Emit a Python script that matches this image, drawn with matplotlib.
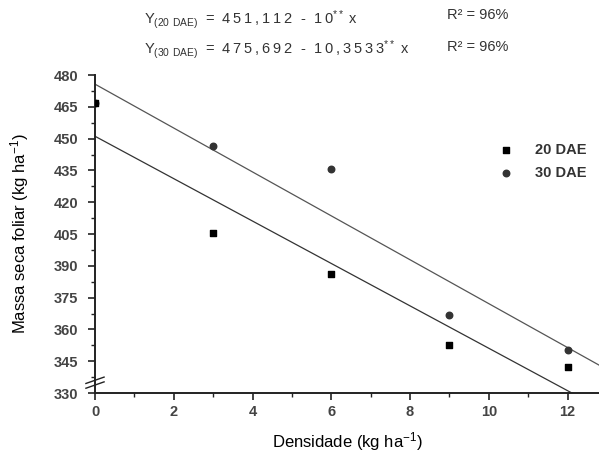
import matplotlib
matplotlib.use("Agg")
import matplotlib.pyplot as plt
import numpy as np

plt.rcParams['font.family'] = ['Liberation Sans', 'DejaVu Sans']
plt.rcParams['mathtext.default'] = 'regular'

# data
dens = [0, 3, 6, 9, 12]
dae20 = [467, 405.5, 386, 352.5, 342.5]
dae30 = [467, 446.5, 435.5, 367, 350.5]
# regression coefficients
fit20 = (451.112, -10.0)
fit30 = (475.692, -10.3533)


def sp(s):
    # wide letter spacing like the original print
    return '\u2009'.join(s)


fig = plt.figure(figsize=(5.99, 4.61), dpi=100)
ax = fig.add_axes([0.1586, 0.1475, 0.8414, 0.6898])

xx = np.array([0, 12.8])
ax.plot(xx, fit20[0] + fit20[1] * xx, color='#333333', lw=0.9)
ax.plot(xx, fit30[0] + fit30[1] * xx, color='#555555', lw=0.9)
ax.scatter(dens, dae30, marker='o', s=22, color='#333333', zorder=3, label='30 DAE')
ax.scatter(dens, dae20, marker='s', s=20, color='black', zorder=4, label='20 DAE')

ax.set_xlim(0, 12.8)
ax.set_ylim(330, 480)
ax.set_xticks(range(0, 13, 2))
ax.set_xticks(range(0, 13, 1), minor=True)
ax.set_yticks(range(330, 481, 15))
ax.set_yticks(np.arange(330, 481, 7.5), minor=True)
for s in ['top', 'right']:
    ax.spines[s].set_visible(False)
for s in ['left', 'bottom']:
    ax.spines[s].set_linewidth(1.4)
    ax.spines[s].set_color('#222222')
ax.tick_params(which='major', direction='out', length=5, width=1.2, labelsize=10.5,
               labelcolor='#444444', colors='#222222')
ax.tick_params(axis='y', which='major', pad=7)
ax.tick_params(which='minor', direction='out', length=3, width=1.0, colors='#222222')
for t in ax.get_xticklabels() + ax.get_yticklabels():
    t.set_fontweight('bold')

# axis break
for dy in (0.025, 0.04):
    ax.plot([-0.018, 0.018], [dy - 0.01, dy + 0.01], transform=ax.transAxes,
            color='#222222', lw=1.0, clip_on=False)

ax.set_xlabel('Densidade (kg ha$^{-1}$)', fontsize=12, labelpad=8)
ax.set_ylabel('Massa seca foliar (kg ha$^{-1}$)', fontsize=12, labelpad=16)

# legend
h, l = ax.get_legend_handles_labels()
ax.legend([h[1], h[0]], ['20 DAE', '30 DAE'], loc='upper left',
          bbox_to_anchor=(0.775, 0.805), frameon=False, handletextpad=1.0,
          borderaxespad=0, labelspacing=0.6, labelcolor='#333333',
          prop={'size': 10.5, 'weight': 'bold'})

fig.text(0.240, 0.957, 'Y$_{(20\\ DAE)}$  =  ' + sp('451,112') + '  -  ' + sp('10') + '$^{**}$ x',
         fontsize=10.5, color='#333333', va='center')
fig.text(0.240, 0.893, 'Y$_{(30\\ DAE)}$  =  ' + sp('475,692') + '  -  ' + sp('10,3533') + '$^{**}$ x',
         fontsize=10.5, color='#333333', va='center')
fig.text(0.747, 0.967, 'R² = 96%', fontsize=10.5, color='#333333', va='center')
fig.text(0.747, 0.899, 'R² = 96%', fontsize=10.5, color='#333333', va='center')

fig.savefig('out.png', dpi=100)
